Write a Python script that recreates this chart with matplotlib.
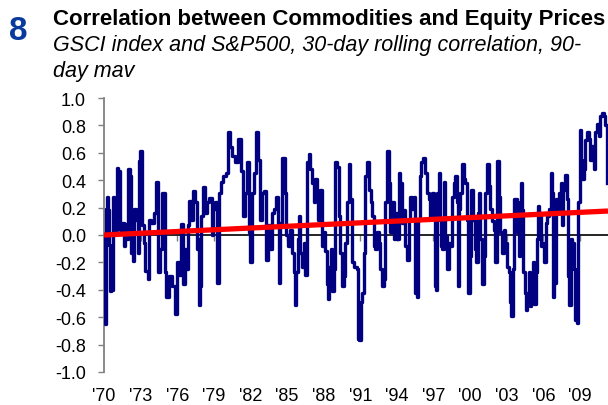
import matplotlib
matplotlib.use("Agg")
import matplotlib.pyplot as plt
from matplotlib.ticker import FormatStrFormatter
import matplotlib.transforms as mtransforms

plt.rcParams['font.family'] = ['Liberation Sans', 'DejaVu Sans']

# ---- data (year, 90-day mav of 30-day rolling correlation) ----
years = [
    1970.04, 1970.12, 1970.18, 1970.26, 1970.37, 1970.45, 1970.53, 1970.67, 1970.75, 1970.91,
    1971.00, 1971.08, 1971.24, 1971.35, 1971.52, 1971.68, 1971.84, 1971.95, 1972.06, 1972.17,
    1972.28, 1972.42, 1972.53, 1972.72, 1972.80, 1972.88, 1973.05, 1973.18, 1973.32, 1973.48,
    1973.65, 1973.76, 1974.00, 1974.19, 1974.33, 1974.47, 1974.63, 1974.90, 1975.04, 1975.20,
    1975.40, 1975.67, 1975.89, 1976.02, 1976.21, 1976.38, 1976.54, 1976.68, 1976.79, 1976.93,
    1977.04, 1977.17, 1977.39, 1977.56, 1977.64, 1977.75, 1977.83, 1977.91, 1977.99, 1978.16,
    1978.35, 1978.51, 1978.73, 1978.89, 1979.03, 1979.20, 1979.33, 1979.47, 1979.66, 1979.85,
    1980.07, 1980.29, 1980.43, 1980.62, 1980.89, 1981.11, 1981.27, 1981.46, 1981.60, 1981.76,
    1981.93, 1982.06, 1982.20, 1982.36, 1982.53, 1982.69, 1982.86, 1983.02, 1983.24, 1983.38,
    1983.54, 1983.65, 1983.82, 1984.03, 1984.20, 1984.31, 1984.39, 1984.53, 1984.72, 1984.88,
    1985.02, 1985.13, 1985.29, 1985.48, 1985.62, 1985.70, 1985.84, 1985.92, 1986.03, 1986.14,
    1986.30, 1986.44, 1986.58, 1986.71, 1986.85, 1986.99, 1987.12, 1987.26, 1987.39, 1987.53,
    1987.61, 1987.75, 1987.94, 1988.08, 1988.21, 1988.30, 1988.41, 1988.52, 1988.62, 1988.76,
    1988.90, 1989.03, 1989.17, 1989.31, 1989.44, 1989.58, 1989.72, 1989.85, 1989.99, 1990.13,
    1990.26, 1990.40, 1990.61, 1990.78, 1990.86, 1991.00, 1991.08, 1991.21, 1991.35, 1991.43,
    1991.62, 1991.81, 1991.92, 1992.03, 1992.17, 1992.31, 1992.44, 1992.58, 1992.72, 1992.85,
    1992.99, 1993.13, 1993.26, 1993.40, 1993.54, 1993.67, 1993.81, 1993.95, 1994.08, 1994.22,
    1994.35, 1994.49, 1994.63, 1994.76, 1994.90, 1995.04, 1995.17, 1995.31, 1995.45, 1995.58,
    1995.72, 1995.80, 1995.91, 1996.08, 1996.19, 1996.35, 1996.54, 1996.68, 1996.81, 1996.95,
    1997.09, 1997.17, 1997.28, 1997.36, 1997.50, 1997.58, 1997.69, 1997.77, 1997.91, 1998.05,
    1998.18, 1998.32, 1998.51, 1998.59, 1998.73, 1998.87, 1999.00, 1999.06, 1999.14, 1999.28,
    1999.41, 1999.55, 1999.69, 1999.82, 1999.90, 2000.04, 2000.15, 2000.31, 2000.42, 2000.59,
    2000.70, 2000.78, 2000.92, 2001.05, 2001.19, 2001.32, 2001.46, 2001.60, 2001.73, 2001.87,
    2002.01, 2002.14, 2002.28, 2002.42, 2002.55, 2002.69, 2002.83, 2002.96, 2003.10, 2003.24,
    2003.32, 2003.46, 2003.57, 2003.65, 2003.78, 2003.92, 2004.06, 2004.14, 2004.20, 2004.30,
    2004.40, 2004.55, 2004.66, 2004.74, 2004.88, 2004.96, 2005.10, 2005.21, 2005.29, 2005.43,
    2005.51, 2005.62, 2005.75, 2005.84, 2005.97, 2006.11, 2006.25, 2006.38, 2006.52, 2006.66,
    2006.74, 2006.85, 2006.93, 2007.07, 2007.20, 2007.34, 2007.48, 2007.56, 2007.67, 2007.83,
    2007.97, 2008.08, 2008.21, 2008.30, 2008.43, 2008.57, 2008.70, 2008.84, 2008.92, 2009.03,
    2009.11, 2009.25, 2009.39, 2009.52, 2009.66, 2009.80, 2009.93, 2010.07, 2010.21, 2010.34,
    2010.48, 2010.62, 2010.75, 2010.89, 2011.03, 2011.16, 2011.22,
]
correlation = [
    0.00, -0.65, 0.19, 0.28, 0.18, -0.07, -0.41, -0.40, 0.28, 0.26,
    0.04, 0.49, 0.47, 0.04, 0.09, -0.08, 0.08, -0.03, 0.48, 0.43,
    -0.13, -0.19, 0.19, 0.11, -0.13, 0.54, 0.61, 0.07, -0.06, -0.26,
    -0.32, 0.11, 0.09, 0.16, 0.39, -0.27, -0.10, 0.31, -0.27, -0.45,
    -0.30, -0.37, -0.58, -0.20, -0.29, 0.08, -0.36, -0.10, -0.25, 0.07,
    0.25, 0.11, 0.32, 0.24, -0.10, -0.03, -0.51, -0.37, 0.14, 0.35,
    0.16, 0.24, 0.27, 0.00, 0.19, 0.24, -0.35, 0.31, 0.39, 0.43,
    0.45, 0.75, 0.64, 0.58, 0.53, 0.70, 0.47, 0.14, 0.31, 0.53,
    0.02, -0.20, 0.31, 0.45, 0.75, 0.55, 0.11, 0.31, 0.32, -0.18,
    0.07, -0.10, 0.16, 0.19, 0.28, 0.07, -0.35, 0.09, 0.56, 0.31,
    0.00, -0.08, 0.04, -0.13, -0.27, -0.51, -0.27, -0.03, 0.14, -0.13,
    -0.23, -0.06, -0.29, 0.53, 0.59, 0.48, 0.38, 0.24, 0.41, 0.26,
    0.11, 0.33, -0.08, 0.02, -0.12, -0.36, -0.47, -0.23, -0.10, -0.41,
    -0.25, 0.53, 0.50, 0.14, -0.13, -0.37, -0.30, -0.06, 0.24, 0.52,
    0.26, -0.20, -0.23, -0.25, -0.76, -0.77, -0.49, -0.42, -0.13, 0.43,
    0.53, 0.33, 0.24, 0.14, -0.08, -0.10, 0.02, -0.06, -0.25, -0.37,
    -0.32, 0.24, 0.61, 0.38, 0.02, 0.24, -0.03, 0.16, -0.03, 0.45,
    0.38, 0.09, 0.18, -0.08, -0.18, 0.11, 0.28, 0.19, 0.28, -0.42,
    -0.45, 0.11, 0.43, 0.53, 0.56, 0.45, 0.31, 0.26, 0.13, 0.31,
    0.16, -0.37, -0.40, 0.31, 0.45, 0.11, -0.08, -0.10, 0.39, -0.01,
    -0.25, -0.06, -0.08, 0.28, 0.38, 0.43, 0.24, -0.37, 0.19, 0.31,
    0.52, 0.41, 0.38, 0.11, -0.42, -0.15, 0.33, 0.11, -0.10, -0.20,
    0.16, 0.31, -0.03, -0.36, -0.15, 0.31, 0.52, 0.36, 0.19, 0.10,
    0.04, -0.20, 0.54, 0.28, 0.02, -0.13, 0.04, -0.06, -0.23, -0.27,
    -0.49, -0.59, -0.25, 0.26, 0.26, 0.02, -0.15, 0.24, 0.38, 0.18,
    -0.27, -0.42, -0.55, -0.42, -0.27, -0.52, -0.35, -0.20, -0.50, -0.27,
    -0.03, 0.21, 0.16, -0.08, -0.06, -0.20, 0.09, 0.14, 0.19, 0.45,
    0.31, -0.45, -0.35, 0.26, 0.16, 0.31, 0.38, 0.07, 0.33, 0.44,
    0.26, -0.30, -0.51, -0.03, -0.06, -0.25, -0.62, -0.64, 0.24, 0.77,
    0.55, 0.41, 0.48, 0.69, 0.75, 0.70, 0.55, 0.65, 0.48, 0.75,
    0.81, 0.72, 0.87, 0.89, 0.87, 0.80, 0.38,
]
trend_years = [1970.0, 2011.3]
trend_values = [0.0, 0.175]

tick_years = list(range(1970, 2010, 3))
tick_labels = ["'%02d" % (y % 100) for y in tick_years]
y_ticks = [-1.0, -0.8, -0.6, -0.4, -0.2, 0.0, 0.2, 0.4, 0.6, 0.8, 1.0]

W, H = 608, 406
fig = plt.figure(figsize=(W / 100, H / 100), dpi=100)
ax = fig.add_axes([104 / W, 33 / H, (W - 104) / W, (373 - 99) / H])

ax.plot(years, correlation, color='#000080', lw=2.4, zorder=3, drawstyle='steps-mid')
ax.plot(trend_years, trend_values, color='#ff0000', lw=3.8, zorder=4, solid_capstyle='butt')

ax.set_xlim(1970, 2011.3)
ax.set_ylim(-1.0, 1.0)
ax.set_yticks(y_ticks)
ax.yaxis.set_major_formatter(FormatStrFormatter('%.1f'))

for s in ['top', 'right']:
    ax.spines[s].set_visible(False)
ax.spines['left'].set_color('#808080')
ax.spines['left'].set_linewidth(1.3)
ax.spines['bottom'].set_position(('data', 0))
ax.spines['bottom'].set_color('black')
ax.spines['bottom'].set_linewidth(1.2)
ax.spines['bottom'].set_zorder(2)

ax.set_xticks(tick_years)
ax.tick_params(axis='x', direction='out', length=4, width=1, color='#808080', labelbottom=False)
ax.tick_params(axis='y', direction='out', length=4, width=1, color='#808080', pad=9, labelsize=13)

trans = mtransforms.blended_transform_factory(ax.transData, fig.transFigure)
for yr, lab in zip(tick_years, tick_labels):
    ax.text(yr, 1 - 405 / H, lab, transform=trans, ha='center', va='bottom', fontsize=13)

fig.text(9 / W, 1 - 40 / H, '8', fontsize=24, fontweight='bold', color='#0b3a9e', va='baseline')
fig.text(53 / W, 1 - 25 / H, 'Correlation between Commodities and Equity Prices',
         fontsize=16, fontweight='bold', va='baseline')
fig.text(53 / W, 1 - 51 / H, 'GSCI index and S&P500, 30-day rolling correlation, 90-',
         fontsize=15.5, style='italic', va='baseline')
fig.text(53 / W, 1 - 77 / H, 'day mav', fontsize=15.5, style='italic', va='baseline')

fig.savefig('out.png', dpi=100)
